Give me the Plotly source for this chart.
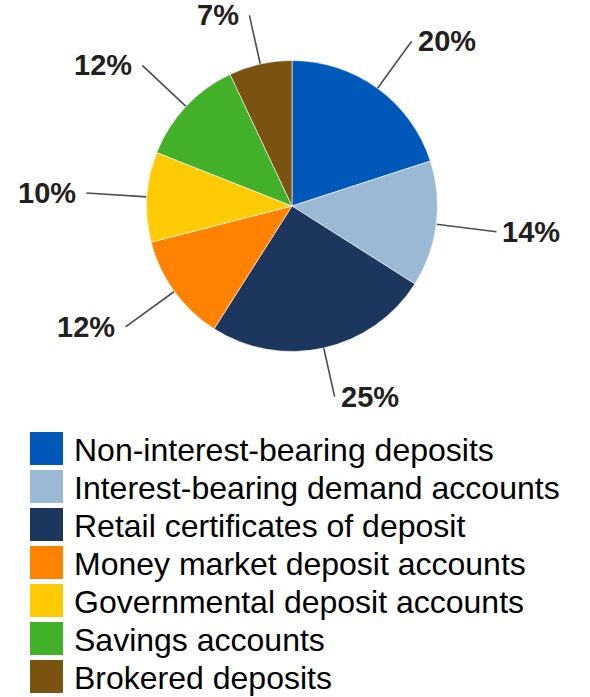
import math
import plotly.graph_objects as go

# Deposit mix
categories = [
    "Non-interest-bearing deposits",
    "Interest-bearing demand accounts",
    "Retail certificates of deposit",
    "Money market deposit accounts",
    "Governmental deposit accounts",
    "Savings accounts",
    "Brokered deposits",
]
shares = [20, 14, 25, 12, 10, 12, 7]
colors = ["#0059b9", "#9bb9d4", "#1c365e", "#ff8200", "#ffcb05", "#43b02a", "#7b5310"]

W, H = 590, 697
CX, CY, R = 292, 206, 145.5  # pie centre and radius in pixels

fig = go.Figure()

fig.add_trace(go.Pie(
    labels=categories,
    values=shares,
    sort=False,
    direction="clockwise",
    rotation=0,
    textinfo="none",
    hoverinfo="label+percent",
    marker=dict(colors=colors, line=dict(color="white", width=0.6)),
    showlegend=False,
    domain=dict(x=[(CX - R) / W, (CX + R) / W], y=[1 - (CY + R) / H, 1 - (CY - R) / H]),
))

# Leader lines and percentage labels placed around the pie
total = sum(shares)
line_x, line_y = [], []
annotations = []
cum = 0
for v in shares:
    theta = math.radians(360 * (cum + v / 2) / total)
    cum += v
    s, c = math.sin(theta), math.cos(theta)
    # pull labels near the vertical axis in a little so they stay clear of the edges
    r_end = 206 - 13 * abs(c) ** 8
    x0, y0 = CX + R * s, CY - R * c
    x1, y1 = CX + r_end * s, CY - r_end * c
    line_x += [x0, x1, None]
    line_y += [y0, y1, None]
    right = s >= 0
    annotations.append(dict(
        x=x1, y=y1, xref="x", yref="y",
        text=f"<b>{v}%</b>", showarrow=False,
        xanchor="left" if right else "right", yanchor="middle",
        xshift=4 if right else -8,
        font=dict(family="Liberation Sans, Arial, sans-serif", size=29, color="#231f20"),
    ))

fig.add_trace(go.Scatter(
    x=line_x, y=line_y, mode="lines",
    line=dict(color="#4d4d4d", width=1.6),
    hoverinfo="skip", showlegend=False,
))

# Legend block below the pie
LEG_TOP, LEG_STEP, SQ = 432, 38, 33
sq_x = [30 + SQ / 2] * len(categories)
sq_y = [LEG_TOP + SQ / 2 + i * LEG_STEP for i in range(len(categories))]
fig.add_trace(go.Scatter(
    x=sq_x, y=sq_y, mode="markers",
    marker=dict(symbol="square", size=SQ, color=colors, line=dict(width=0)),
    hoverinfo="skip", showlegend=False,
))
for name, yy in zip(categories, sq_y):
    annotations.append(dict(
        x=72, y=yy + 1, xref="x", yref="y",
        text=name, showarrow=False,
        xanchor="left", yanchor="middle",
        font=dict(family="Liberation Sans, Arial, sans-serif", size=32, color="#000000"),
    ))

fig.update_layout(
    width=W, height=H,
    margin=dict(l=0, r=0, t=0, b=0),
    paper_bgcolor="white", plot_bgcolor="rgba(0,0,0,0)",
    xaxis=dict(range=[0, W], visible=False, fixedrange=True, domain=[0, 1]),
    yaxis=dict(range=[H, 0], visible=False, fixedrange=True, domain=[0, 1]),
    annotations=annotations,
    showlegend=False,
)

fig.write_html("out.html")
